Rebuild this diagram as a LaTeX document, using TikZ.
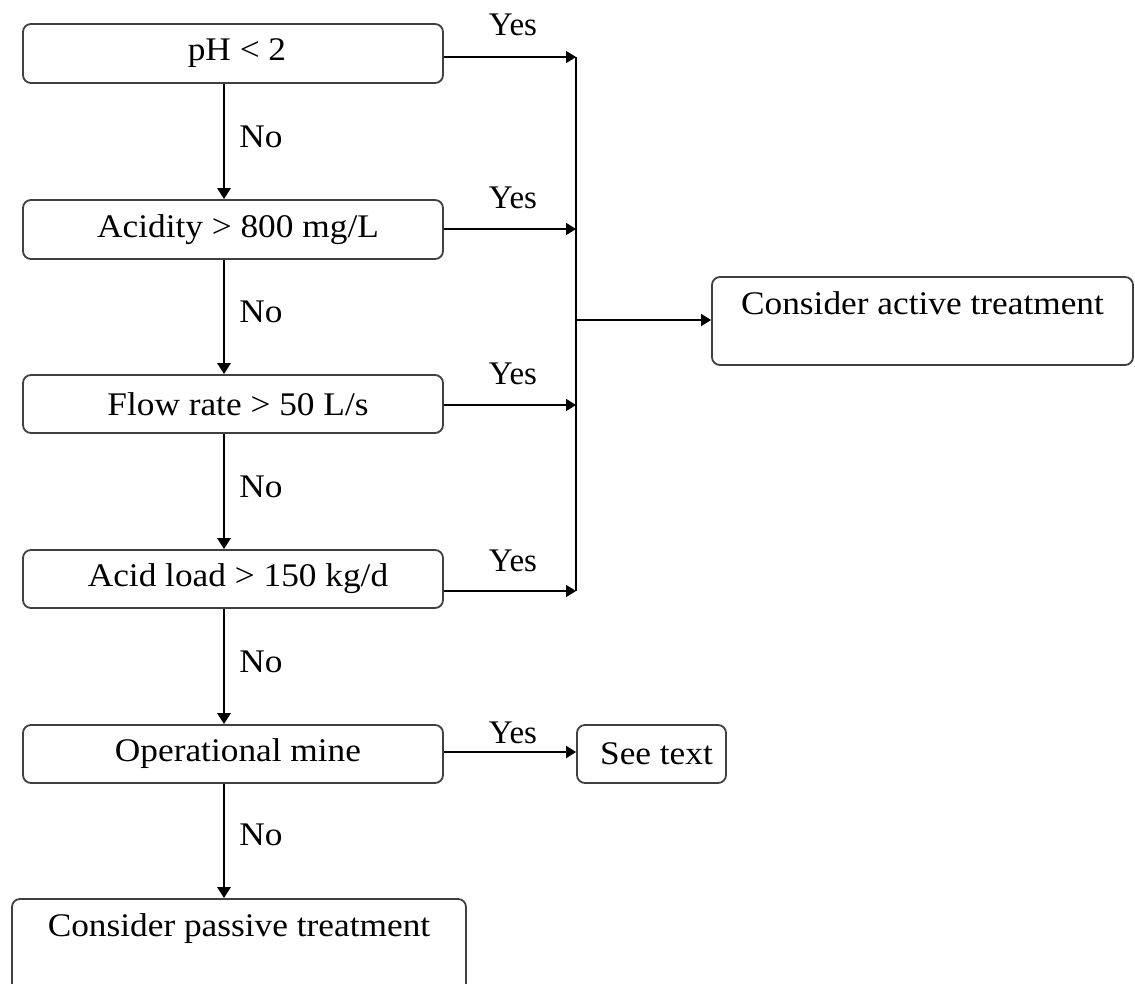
\documentclass[tikz,border=0pt]{standalone}
\usepackage{fontspec}
\setmainfont{Liberation Serif}
\newfontfamily\boxfont[FakeStretch=1.07]{Liberation Serif}
\usetikzlibrary{arrows.meta}
\begin{document}
\begin{tikzpicture}[x=1pt,y=-1pt,
  box/.style={draw=black!75, line width=1.8pt, rounded corners=8pt, inner sep=0pt,
    font=\boxfont\fontsize{33}{40}\selectfont, anchor=center},
  nolbl/.style={font=\boxfont\fontsize{33}{40}\selectfont, inner sep=0pt, anchor=base},
  yeslbl/.style={font=\fontsize{33}{40}\selectfont, inner sep=0pt, anchor=base},
  down/.style={line width=2.8pt, -{Triangle[length=11pt,width=13pt]}},
  side/.style={line width=1.8pt, -{Triangle[length=10pt,width=12pt]}},
  plain/.style={line width=1.8pt}]
\useasboundingbox (0,0) rectangle (1135,983);
\clip (0,0) rectangle (1135,983);
\fill[white] (0,0) rectangle (1135,983);
\node[box, minimum width=420pt, minimum height=59pt] (b1) at (233,53.5) {\hspace{8pt}pH < 2};
\node[box, minimum width=420pt, minimum height=59pt] (b2) at (233,229.5) {\hspace{10pt}Acidity > 800 mg/L};
\node[box, minimum width=420pt, minimum height=58pt] (b3) at (233,404) {\hspace{10pt}Flow rate > 50 L/s};
\node[box, minimum width=420pt, minimum height=58pt] (b4) at (233,579) {\hspace{10pt}Acid load > 150 kg/d};
\node[box, minimum width=420pt, minimum height=58pt] (b5) at (233,754) {\hspace{10pt}Operational mine};
\node[box, minimum width=149pt, minimum height=58pt] (st) at (651.5,754) {\hspace{10pt}See text};
\node[box, minimum width=421pt, minimum height=88pt, text height=31pt, text depth=45pt] (act) at (922.5,321) {Consider active treatment};
\node[box, minimum width=454pt, minimum height=130pt, text height=32pt, text depth=88pt] (pas) at (239,964) {Consider passive treatment};
\coordinate (ax) at (224,0);
\coordinate (j1) at (576,57);
\coordinate (j2) at (576,229);
\coordinate (j3) at (576,405);
\coordinate (j4) at (576,591);
\coordinate (jm) at (576,320);
\draw[down] (b1.south -| ax) -- (b2.north -| ax);
\draw[down] (b2.south -| ax) -- (b3.north -| ax);
\draw[down] (b3.south -| ax) -- (b4.north -| ax);
\draw[down] (b4.south -| ax) -- (b5.north -| ax);
\draw[down] (b5.south -| ax) -- (pas.north -| ax);
\draw[side] (b1.east |- j1) -- (j1);
\draw[side] (b2.east |- j2) -- (j2);
\draw[side] (b3.east |- j3) -- (j3);
\draw[side] (b4.east |- j4) -- (j4);
\draw[plain] (j1) -- (j4);
\draw[side] (jm) -- (act.west |- jm);
\draw[side] (b5.east |- 0,752) -- (st.west |- 0,752);
\node[yeslbl] (y1) at (513,35) {Yes};
\node[yeslbl] (y2) at (513,208) {Yes};
\node[yeslbl] (y3) at (513,384) {Yes};
\node[yeslbl] (y4) at (513,571) {Yes};
\node[yeslbl] (y5) at (513,743) {Yes};
\node[nolbl] (n1) at (261,147) {No};
\node[nolbl] (n2) at (261,322) {No};
\node[nolbl] (n3) at (261,497) {No};
\node[nolbl] (n4) at (261,672) {No};
\node[nolbl] (n5) at (261,845) {No};
\end{tikzpicture}
\end{document}
